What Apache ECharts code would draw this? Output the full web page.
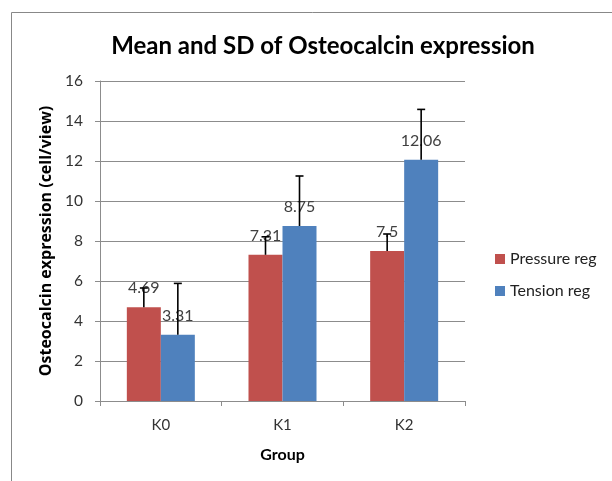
<!DOCTYPE html>
<html>
<head>
<meta charset="utf-8">
<script src="https://cdn.jsdelivr.net/npm/echarts@6/dist/echarts.min.js"></script>
<style>
  html, body { margin: 0; padding: 0; background: #fff; }
  #main { width: 612px; height: 481px; }
</style>
</head>
<body>
<div id="main"></div>
<script>
var groups = ['K0', 'K1', 'K2'];
var pressureMean = [4.69, 7.31, 7.5];
var pressureSD = [0.96, 0.9, 0.85];
var tensionMean = [3.31, 8.75, 12.06];
var tensionSD = [2.57, 2.5, 2.52];

var font = 'Lato';

function errorData(mean, sd) {
    return mean.map(function (m, i) { return [i, m, m + sd[i]]; });
}

function errorSeries(name, data, offset) {
    return {
        type: 'custom',
        name: name + ' SD',
        z: 10,
        silent: true,
        data: data,
        renderItem: function (params, api) {
            var low = api.coord([api.value(0), api.value(1)]);
            var high = api.coord([api.value(0), api.value(2)]);
            var x = low[0] + offset;
            var style = { stroke: '#000', lineWidth: 1.6 };
            return {
                type: 'group',
                children: [
                    { type: 'line', shape: { x1: x, y1: low[1], x2: x, y2: high[1] }, style: style },
                    { type: 'line', shape: { x1: x - 4, y1: high[1], x2: x + 4, y2: high[1] }, style: style }
                ]
            };
        }
    };
}

var labelStyle = {
    show: true,
    position: 'top',
    distance: 11,
    color: '#404040',
    fontFamily: font,
    fontSize: 16
};

var dom = document.getElementById('main');
var myChart = echarts.init(dom);
var option = {
    backgroundColor: '#fff',
    animation: false,
    title: {
        text: 'Mean and SD of Osteocalcin expression',
        left: 318,
        top: 29,
        textAlign: 'center',
        textStyle: { fontFamily: font, fontSize: 24, fontWeight: 'bold', color: '#000' }
    },
    graphic: [{
        type: 'rect',
        shape: { x: 11.5, y: 12.5, width: 700, height: 600 },
        style: { fill: 'none', stroke: '#888', lineWidth: 1 },
        silent: true
    }],
    legend: {
        orient: 'vertical',
        left: 490,
        top: 246,
        itemWidth: 10,
        itemHeight: 10,
        itemGap: 16,
        icon: 'rect',
        data: ['Pressure reg', 'Tension reg'],
        textStyle: { fontFamily: font, fontSize: 16, color: '#222' }
    },
    grid: { left: 100, top: 81, width: 365, height: 320 },
    xAxis: {
        type: 'category',
        data: groups,
        name: 'Group',
        nameLocation: 'middle',
        nameGap: 46,
        nameTextStyle: { fontFamily: font, fontSize: 16, fontWeight: 'bold', color: '#000' },
        axisLine: { lineStyle: { color: '#8c8c8c', width: 1 } },
        axisTick: { show: true, length: 5, lineStyle: { color: '#8c8c8c' } },
        axisLabel: { fontFamily: font, fontSize: 15, color: '#333', margin: 17 }
    },
    yAxis: {
        type: 'value',
        min: 0,
        max: 16,
        interval: 2,
        name: 'Osteocalcin expression (cell/view)',
        nameLocation: 'middle',
        nameGap: 46,
        nameTextStyle: { fontFamily: 'Open Sans', fontSize: 16, fontWeight: 'bold', color: '#000' },
        axisLine: { show: true, lineStyle: { color: '#8c8c8c', width: 1 } },
        axisTick: { show: true, length: 5, lineStyle: { color: '#8c8c8c' } },
        axisLabel: { fontFamily: font, fontSize: 15.5, color: '#333', margin: 17 },
        splitLine: { lineStyle: { color: '#8c8c8c', width: 1 } }
    },
    series: [
        {
            name: 'Pressure reg',
            type: 'bar',
            data: pressureMean,
            barWidth: 34,
            barGap: '0%',
            itemStyle: { color: '#C0504D' },
            label: labelStyle
        },
        {
            name: 'Tension reg',
            type: 'bar',
            data: tensionMean,
            barWidth: 34,
            barGap: '0%',
            itemStyle: { color: '#4F81BD' },
            label: labelStyle
        },
        errorSeries('Pressure reg', errorData(pressureMean, pressureSD), -17),
        errorSeries('Tension reg', errorData(tensionMean, tensionSD), 17)
    ]
};
if (option && typeof option === "object") {
    myChart.setOption(option, true);
    window.onresize = myChart.resize;
}
</script>
</body>
</html>
